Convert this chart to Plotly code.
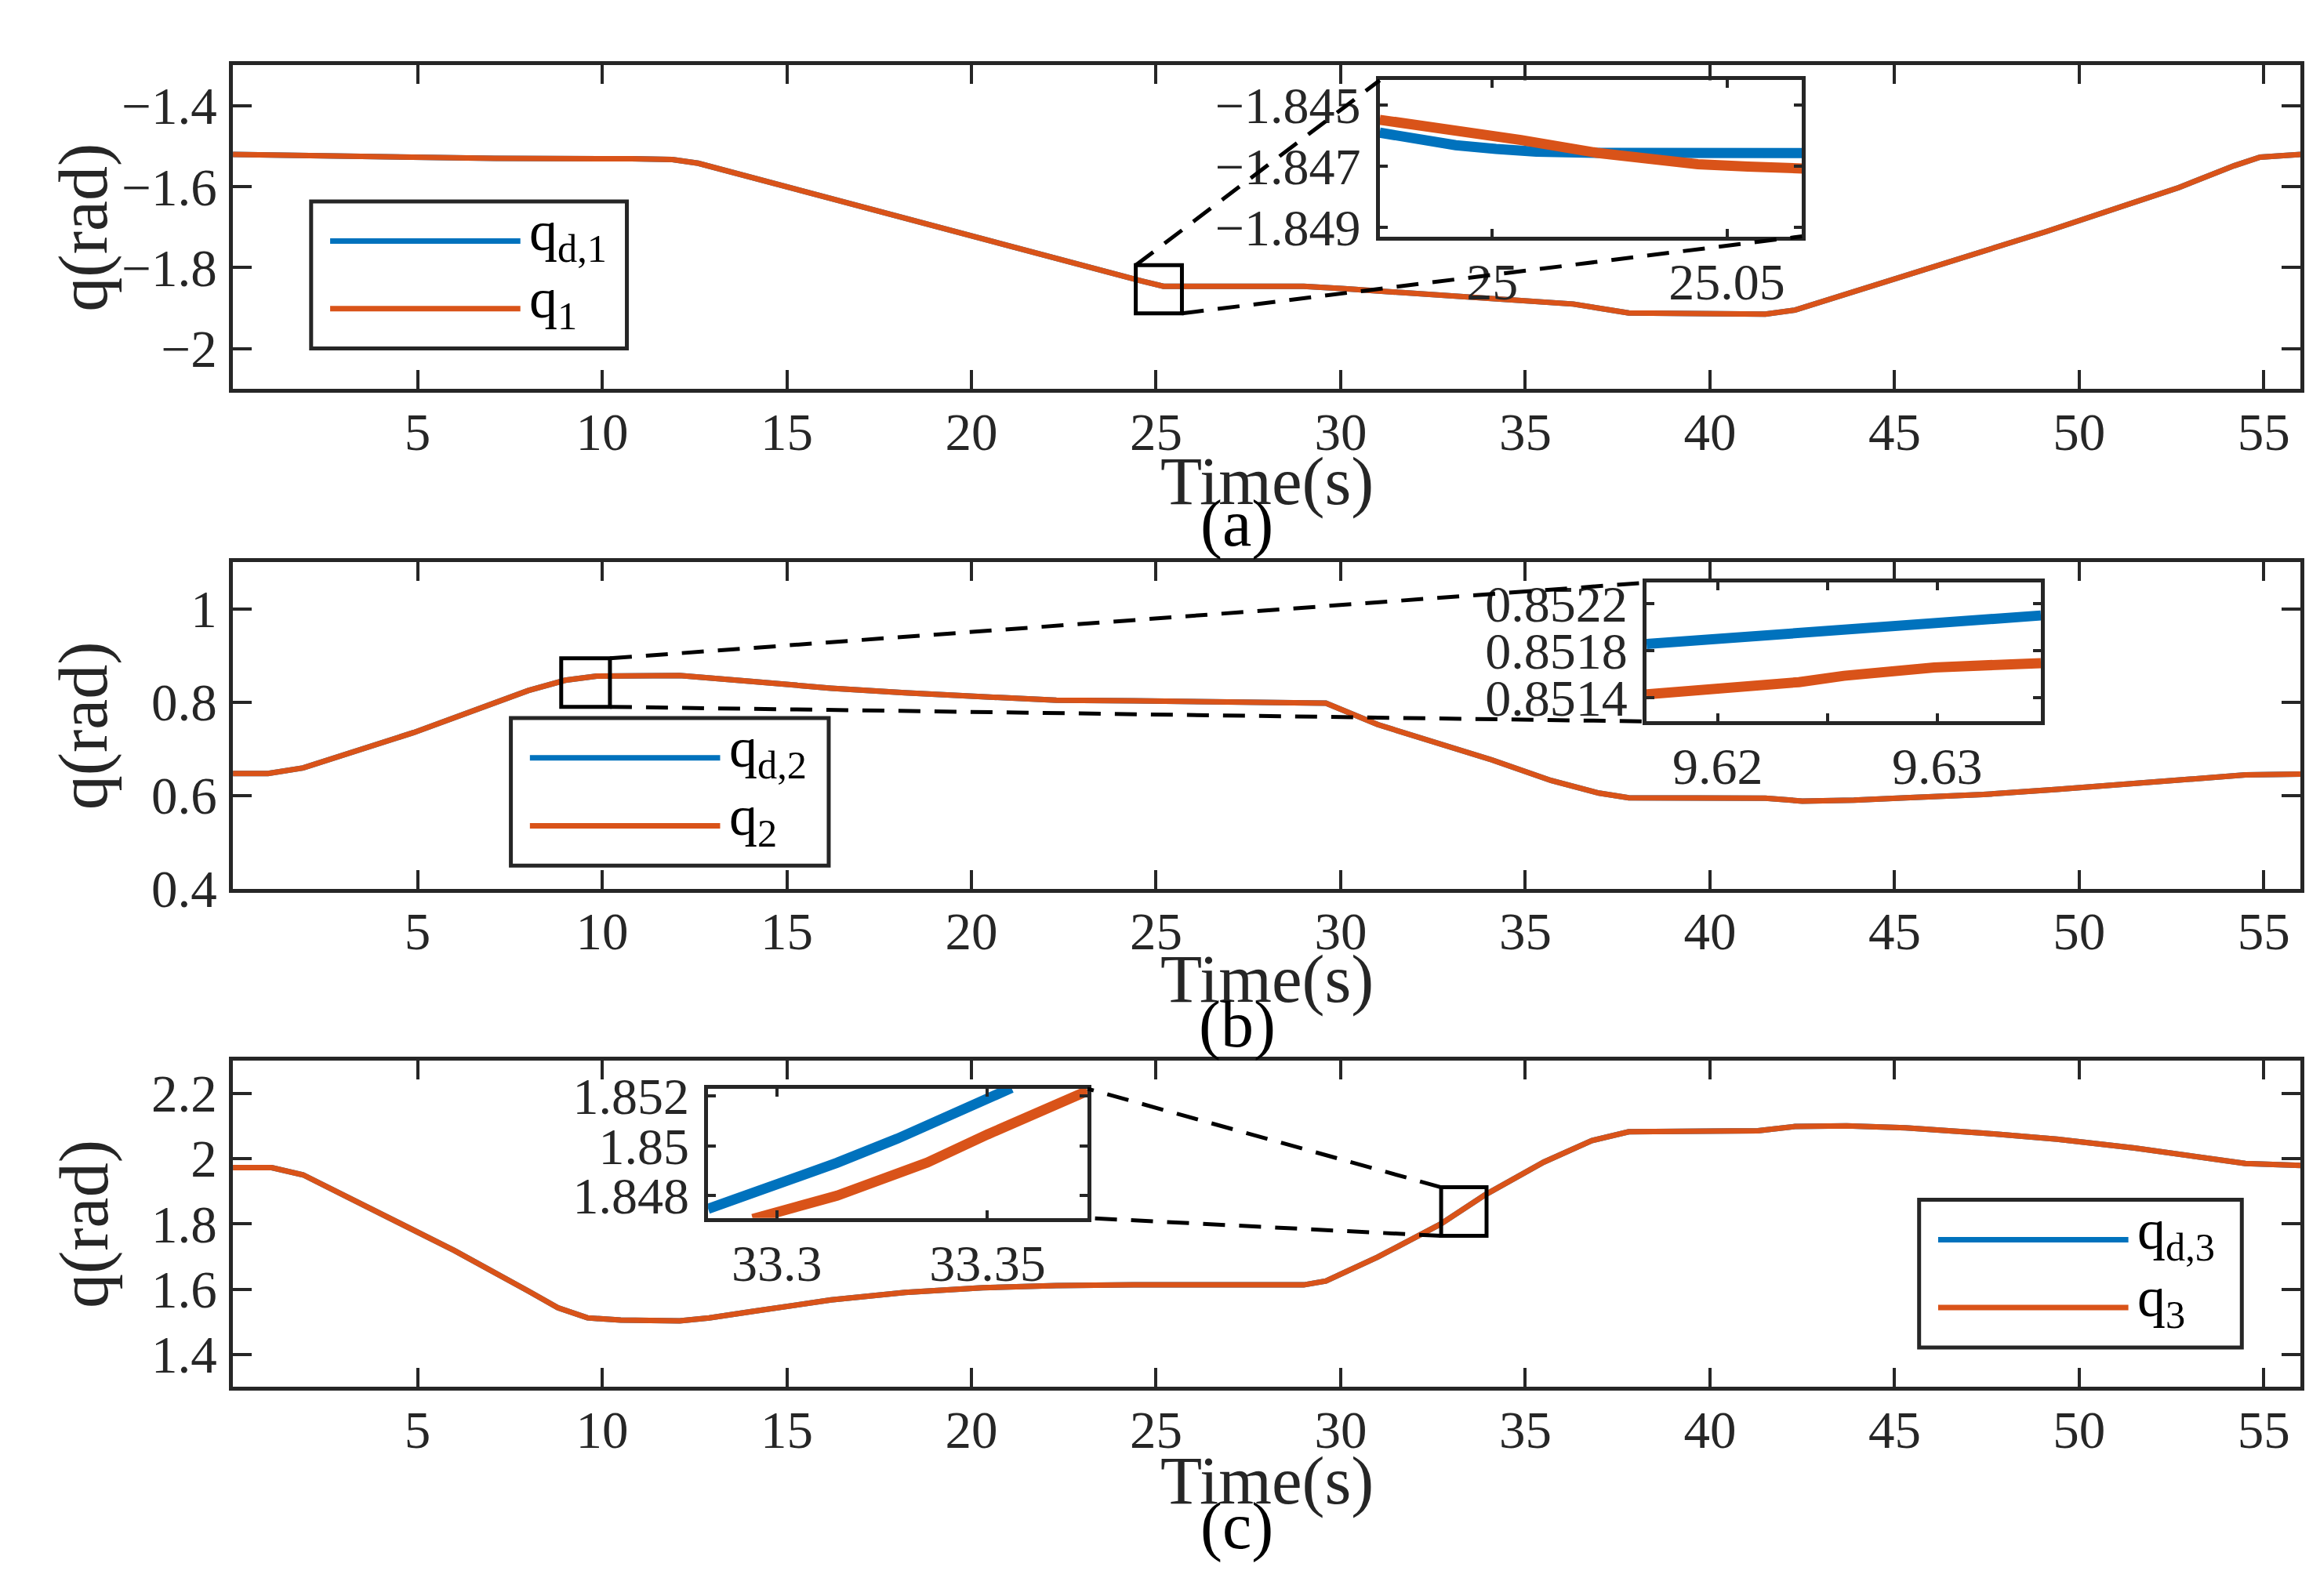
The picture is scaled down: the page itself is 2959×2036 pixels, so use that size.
import plotly.graph_objects as go

# ---- main curves (q_d and q overlap at this scale) ----
t1 = [0, 3.5, 7.1, 10.8, 11.9, 12.6, 14.4, 18.1, 21.7, 24.6, 25.2, 29.0, 30.1, 32.7, 36.3, 37.8,
      41.5, 42.3, 45.4, 49.1, 52.7, 54.2, 54.9, 56]
q1 = [-1.520, -1.5265, -1.530, -1.531, -1.533, -1.542, -1.586, -1.674, -1.761, -1.833, -1.846,
      -1.846, -1.852, -1.868, -1.890, -1.912, -1.915, -1.905, -1.818, -1.711, -1.602, -1.548,
      -1.527, -1.520]

t2 = [0, 0.95, 1.9, 4.9, 8.0, 9.0, 9.85, 12.1, 14.1, 16.2, 18.2, 20.3, 22.3, 24.4, 29.0, 29.6,
      31.0, 32.7, 34.1, 35.7, 37.0, 37.8, 41.5, 42.5, 43.9, 45.3, 47.4, 49.4, 51.5, 53.5, 54.5, 56]
q2 = [0.647, 0.647, 0.659, 0.735, 0.825, 0.847, 0.856, 0.857, 0.844, 0.830, 0.820, 0.811, 0.804,
      0.803, 0.801, 0.798, 0.752, 0.711, 0.676, 0.632, 0.605, 0.595, 0.594, 0.588, 0.590, 0.595,
      0.602, 0.613, 0.625, 0.638, 0.644, 0.646]

t3 = [0, 1.05, 1.9, 3.9, 6.0, 8.0, 8.8, 9.6, 10.5, 12.1, 12.9, 14.1, 16.2, 18.2, 20.3, 22.3, 24.4,
      29.0, 29.6, 31.0, 32.7, 33.9, 35.5, 36.8, 37.8, 41.3, 42.3, 43.7, 45.3, 47.4, 49.4, 51.5,
      53.5, 54.5, 56]
q3 = [1.972, 1.972, 1.950, 1.838, 1.718, 1.594, 1.543, 1.512, 1.505, 1.503, 1.512, 1.532, 1.567,
      1.590, 1.604, 1.611, 1.613, 1.613, 1.625, 1.698, 1.799, 1.888, 1.989, 2.055, 2.082, 2.085,
      2.098, 2.100, 2.094, 2.078, 2.059, 2.032, 2.001, 1.985, 1.979]

# ---- zoomed data ----
za_t_d = [24.976, 24.9846, 24.9922, 25.0008, 25.0094, 25.0223, 25.033, 25.0661]
za_qd = [-1.84591, -1.84615, -1.84632, -1.84644, -1.84653, -1.84657, -1.84658, -1.84658]
za_t = [24.976, 24.990, 25.0061, 25.0223, 25.033, 25.0438, 25.0545, 25.0661]
za_q = [-1.84549, -1.84578, -1.84615, -1.84657, -1.84677, -1.84694, -1.84702, -1.84708]

zb_t_d = [9.61676, 9.6237, 9.62986, 9.63472]
zb_qd = [0.851858, 0.851945, 0.852042, 0.852101]
zb_t = [9.61676, 9.62062, 9.6237, 9.62575, 9.62986, 9.63472]
zb_q = [0.851430, 0.851480, 0.851534, 0.851588, 0.851659, 0.851696]

zc_t_d = [33.2837, 33.3, 33.3143, 33.3286, 33.3429, 33.3557]
zc_qd = [1.84747, 1.84840, 1.84932, 1.85029, 1.85132, 1.85233]
zc_t = [33.2943, 33.3143, 33.3357, 33.35, 33.3737]
zc_q = [1.84706, 1.84800, 1.84933, 1.85046, 1.85221]

# tick labels
main_xticks = [5, 10, 15, 20, 25, 30, 35, 40, 45, 50, 55]
ya_vals = [-2, -1.8, -1.6, -1.4]
ya_text = ['−2', '−1.8', '−1.6', '−1.4']
yb_vals = [0.4, 0.6, 0.8, 1]
yb_text = ['0.4', '0.6', '0.8', '1']
yc_vals = [1.4, 1.6, 1.8, 2, 2.2]
yc_text = ['1.4', '1.6', '1.8', '2', '2.2']
ia_xvals, ia_xtext = [25, 25.05], ['25', '25.05']
ia_yvals, ia_ytext = [-1.849, -1.847, -1.845], ['−1.849', '−1.847', '−1.845']
ib_xvals, ib_xtext = [9.62, 9.625, 9.63], ['9.62', '', '9.63']
ib_yvals, ib_ytext = [0.8514, 0.8518, 0.8522], ['0.8514', '0.8518', '0.8522']
ic_xvals, ic_xtext = [33.3, 33.35], ['33.3', '33.35']
ic_yvals, ic_ytext = [1.848, 1.85, 1.852], ['1.848', '1.85', '1.852']

BLUE = '#0072BD'
ORANGE = '#D95319'
AX = '#262626'
FONT = 'Liberation Serif, DejaVu Serif, serif'

XDOM = [0.0977, 0.989]
XR = [0, 56]
panels = [
    dict(dom=[0.7657, 0.975], yr=[-2.1, -1.3], yv=ya_vals, yt=ya_text, label='(a)',
         tx=0.7065, lab=0.6787, t=t1, q=q1, sub='1',
         inset=dict(xd=[0.592, 0.774], yd=[0.8644, 0.9653], xr=[24.976, 25.066], yr=[-1.8493, -1.8442],
                    xv=ia_xvals, xt=ia_xtext, yv=ia_yvals, yt=ia_ytext,
                    td=za_t_d, qd=za_qd, tq=za_t, qq=za_q),
         box=[24.45, 25.7, -1.913, -1.794], links=[('tl', 'tl'), ('br', 'br')],
         leg=[0.1314, 0.2675, 0.792, 0.887]),
    dict(dom=[0.4426, 0.6537], yr=[0.4, 1.1], yv=yb_vals, yt=yb_text, label='(b)',
         tx=0.3843, lab=0.3546, t=t2, q=q2, sub='2',
         inset=dict(xd=[0.707, 0.877], yd=[0.5508, 0.6405], xr=[9.61676, 9.63472], yr=[0.8512, 0.85238],
                    xv=ib_xvals, xt=ib_xtext, yv=ib_yvals, yt=ib_ytext,
                    td=zb_t_d, qd=zb_qd, tq=zb_t, qq=zb_q),
         box=[8.89, 10.21, 0.790, 0.894], links=[('tr', 'tl'), ('br', 'bl')],
         leg=[0.2175, 0.3545, 0.4575, 0.553]),
    dict(dom=[0.1204, 0.3315], yr=[1.3, 2.3], yv=yc_vals, yt=yc_text, label='(c)',
         tx=0.0602, lab=0.0306, t=t3, q=q3, sub='3',
         inset=dict(xd=[0.3025, 0.466], yd=[0.2297, 0.3133], xr=[33.2837, 33.3737], yr=[1.8471, 1.8523],
                    xv=ic_xvals, xt=ic_xtext, yv=ic_yvals, yt=ic_ytext,
                    td=zc_t_d, qd=zc_qd, tq=zc_t, qq=zc_q),
         box=[32.72, 33.95, 1.763, 1.912], links=[('tl', 'tr'), ('bl', 'br')],
         leg=[0.8245, 0.9636, 0.146, 0.2415]),
]

fig = go.Figure()
layout = dict(width=2959, height=2036, autosize=False,
              margin=dict(l=0, r=0, t=0, b=0),
              paper_bgcolor='white', plot_bgcolor='white', showlegend=False,
              font=dict(family=FONT, color=AX, size=66))
shapes = []
annots = []


def axis_style(**kw):
    d = dict(showline=True, linecolor=AX, linewidth=5, mirror='ticks', ticks='inside',
             tickcolor=AX, tickwidth=4, showgrid=False, zeroline=False,
             tickfont=dict(family=FONT, size=67, color=AX), tickmode='array')
    d.update(kw)
    return d


def to_paper(v, r, dom):
    return dom[0] + (v - r[0]) / (r[1] - r[0]) * (dom[1] - dom[0])


for i, p in enumerate(panels):
    mx = i + 1
    ix = i + 4
    mxs = 'x' if mx == 1 else f'x{mx}'
    mys = 'y' if mx == 1 else f'y{mx}'
    ixs, iys = f'x{ix}', f'y{ix}'

    fig.add_trace(go.Scatter(x=p['t'], y=p['q'], mode='lines', line=dict(color=BLUE, width=7),
                             xaxis=mxs, yaxis=mys))
    fig.add_trace(go.Scatter(x=p['t'], y=p['q'], mode='lines', line=dict(color=ORANGE, width=7),
                             xaxis=mxs, yaxis=mys))
    ins = p['inset']
    fig.add_trace(go.Scatter(x=ins['td'], y=ins['qd'], mode='lines', line=dict(color=BLUE, width=13),
                             xaxis=ixs, yaxis=iys, cliponaxis=False))
    fig.add_trace(go.Scatter(x=ins['tq'], y=ins['qq'], mode='lines', line=dict(color=ORANGE, width=13),
                             xaxis=ixs, yaxis=iys, cliponaxis=False))

    layout['xaxis' if mx == 1 else f'xaxis{mx}'] = axis_style(
        domain=XDOM, range=XR, anchor=mys, tickvals=main_xticks, ticklen=24, ticklabelstandoff=-8)
    layout['yaxis' if mx == 1 else f'yaxis{mx}'] = axis_style(
        domain=p['dom'], range=p['yr'], anchor=mxs, tickvals=p['yv'], ticktext=p['yt'], ticklen=24,
        ticklabelstandoff=2)
    layout[f'xaxis{ix}'] = axis_style(
        domain=ins['xd'], range=ins['xr'], anchor=iys, tickvals=ins['xv'], ticktext=ins['xt'],
        ticklen=10, ticklabelstandoff=-4, tickfont=dict(family=FONT, size=66, color=AX))
    layout[f'yaxis{ix}'] = axis_style(
        domain=ins['yd'], range=ins['yr'], anchor=ixs, tickvals=ins['yv'], ticktext=ins['yt'],
        ticklen=10, ticklabelstandoff=6, tickfont=dict(family=FONT, size=66, color=AX))

    # zoom rectangle on the main axes
    bx0, bx1, by0, by1 = p['box']
    shapes.append(dict(type='rect', xref=mxs, yref=mys, x0=bx0, x1=bx1, y0=by0, y1=by1,
                       line=dict(color='black', width=5)))
    corners_box = {
        'tl': (to_paper(bx0, XR, XDOM), to_paper(by1, p['yr'], p['dom'])),
        'tr': (to_paper(bx1, XR, XDOM), to_paper(by1, p['yr'], p['dom'])),
        'bl': (to_paper(bx0, XR, XDOM), to_paper(by0, p['yr'], p['dom'])),
        'br': (to_paper(bx1, XR, XDOM), to_paper(by0, p['yr'], p['dom'])),
    }
    corners_ins = {
        'tl': (ins['xd'][0], ins['yd'][1]), 'tr': (ins['xd'][1], ins['yd'][1]),
        'bl': (ins['xd'][0], ins['yd'][0]), 'br': (ins['xd'][1], ins['yd'][0]),
    }
    for a, b in p['links']:
        (x0, y0), (x1, y1) = corners_box[a], corners_ins[b]
        shapes.append(dict(type='line', xref='paper', yref='paper', x0=x0, y0=y0, x1=x1, y1=y1,
                           line=dict(color='black', width=5, dash='28px,18px')))

    # legend drawn by hand (MATLAB style box)
    lx0, lx1, ly0, ly1 = p['leg']
    shapes.append(dict(type='rect', xref='paper', yref='paper', x0=lx0, x1=lx1, y0=ly0, y1=ly1,
                       fillcolor='white', line=dict(color=AX, width=5)))
    h = ly1 - ly0
    for frac, col, name in [(0.27, BLUE, f'q<sub>d,{p["sub"]}</sub>'), (0.73, ORANGE, f'q<sub>{p["sub"]}</sub>')]:
        yy = ly1 - frac * h
        shapes.append(dict(type='line', xref='paper', yref='paper', x0=lx0 + 0.0082, x1=lx0 + 0.0902,
                           y0=yy, y1=yy, line=dict(color=col, width=7)))
        annots.append(dict(xref='paper', yref='paper', x=lx0 + 0.0935, y=yy + 0.004, text=name,
                           showarrow=False, xanchor='left', yanchor='middle',
                           font=dict(family=FONT, size=72, color='black')))

    # titles
    annots.append(dict(xref='paper', yref='paper', x=sum(XDOM) / 2, y=p['tx'], text='Time(s)',
                       showarrow=False, xanchor='center', yanchor='middle',
                       font=dict(family=FONT, size=87, color=AX)))
    annots.append(dict(xref='paper', yref='paper', x=0.5305, y=p['lab'], text=p['label'],
                       showarrow=False, xanchor='center', yanchor='middle',
                       font=dict(family=FONT, size=84, color='black')))
    annots.append(dict(xref='paper', yref='paper', x=0.0334, y=sum(p['dom']) / 2, text='q(rad)',
                       showarrow=False, xanchor='center', yanchor='middle', textangle=-90,
                       font=dict(family=FONT, size=88, color=AX)))

layout['shapes'] = shapes
layout['annotations'] = annots
fig.update_layout(**layout)
fig.write_html("out.html")
